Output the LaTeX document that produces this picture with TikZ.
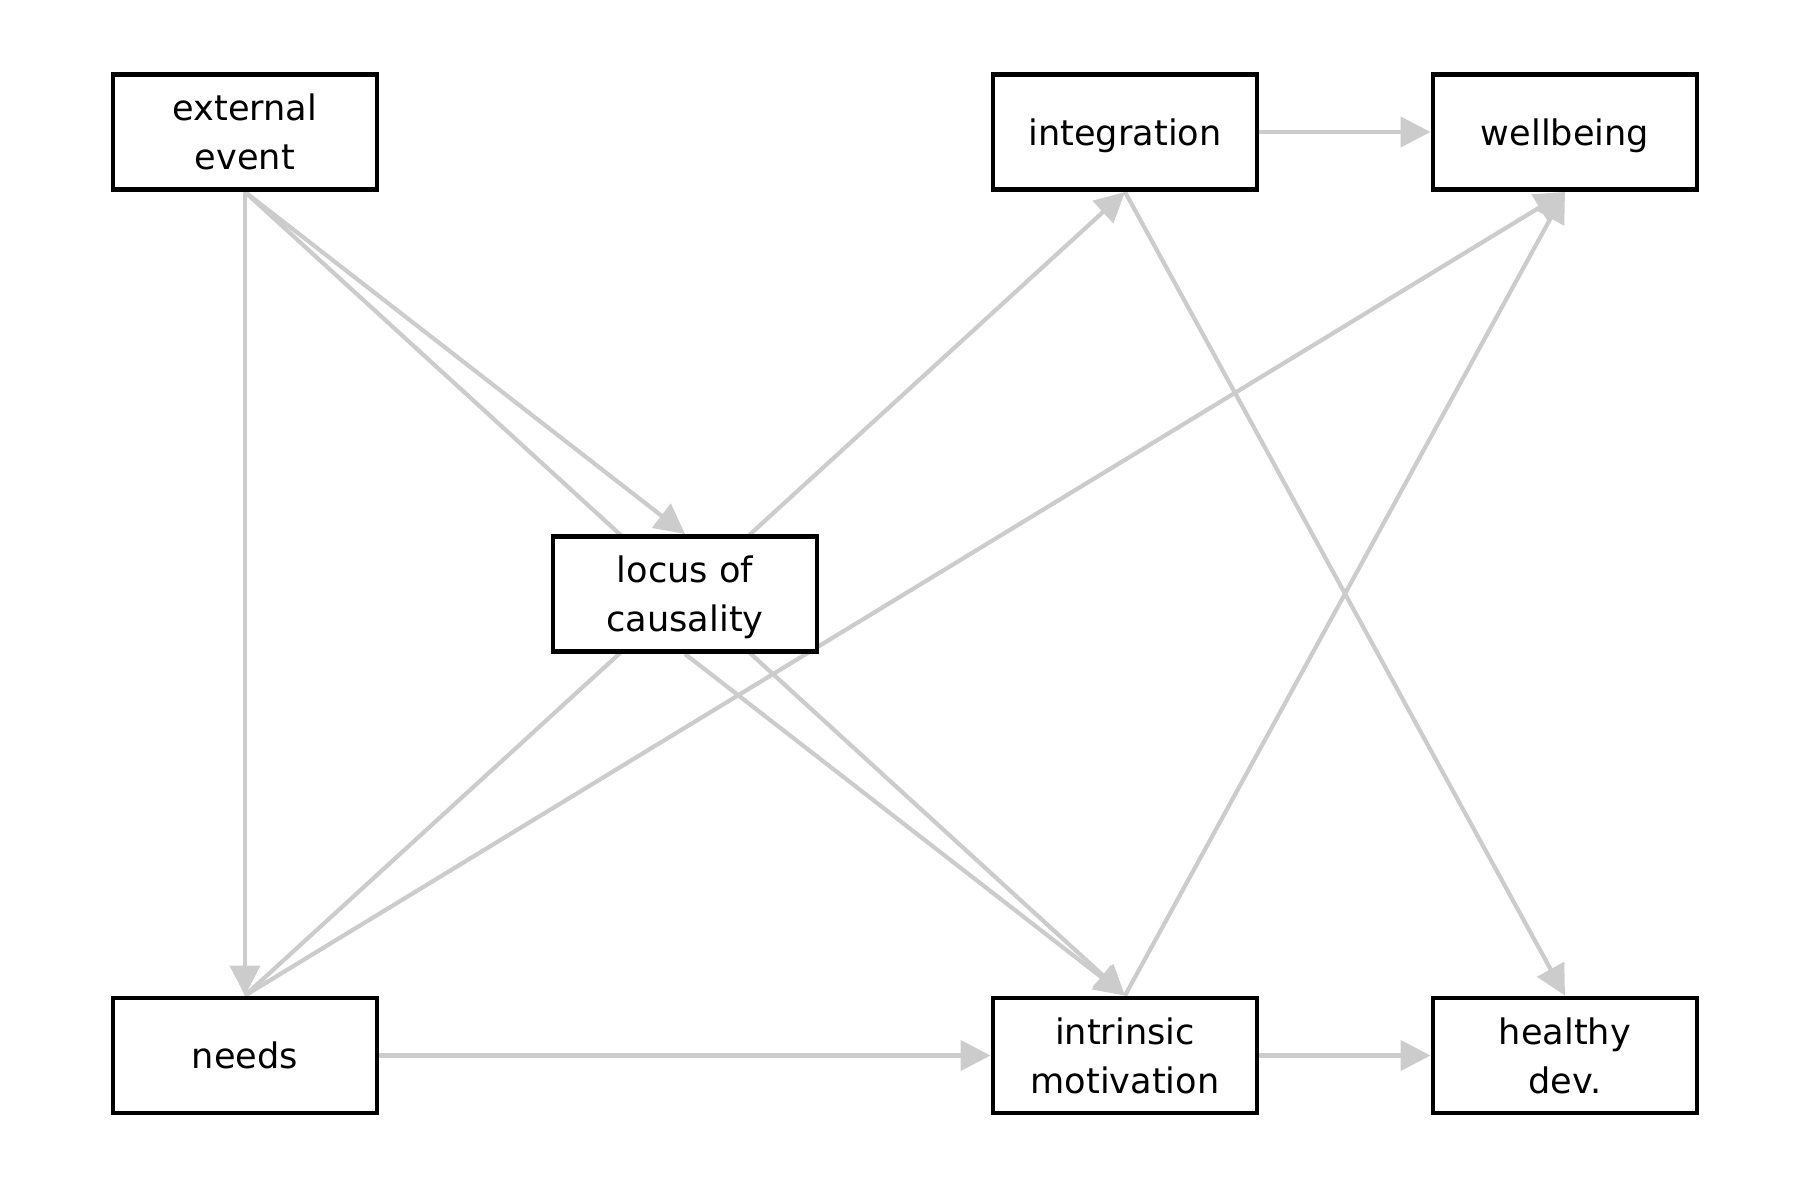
\documentclass[tikz,border=0pt]{standalone}
\usepackage{fontspec}
\setmainfont{DejaVu Sans}
\usetikzlibrary{arrows.meta, backgrounds}

\begin{document}
\begin{tikzpicture}[
    var/.style={rectangle, draw=black, line width=1.4pt, fill=white, minimum width=2.64cm, minimum height=1.15cm, text depth=0pt, align=center, font=\fontsize{10}{14}\selectfont},
    arr/.style={-{Triangle[length=0.3cm, width=0.3cm]}, line width=1.2pt, color=black!20}
]
    \useasboundingbox (0, 0) rectangle (18, 12);

    % Layout: four columns, three rows
    \node[var] (ext) at (2.45, 10.68) {external\\event};
    \node[var] (integ) at (11.25, 10.68) {integration};
    \node[var] (well) at (15.65, 10.68) {wellbeing};
    \node[var] (locus) at (6.85, 6.06) {locus of\\causality};
    \node[var] (needs) at (2.45, 1.445) {needs};
    \node[var] (intr) at (11.25, 1.445) {intrinsic\\motivation};
    \node[var] (healthy) at (15.65, 1.445) {healthy\\dev.};

    % Arrows go behind the boxes
    \begin{pgfonlayer}{background}
    \draw[arr] (ext.south) -- (locus.north);
    \draw[arr] (ext.south) -- (intr.north);
    \draw[arr] (ext.south) -- (needs.north);
    \draw[arr] (needs.north) -- (integ.south);
    \draw[arr] (needs.north) -- (well.south);
    \draw[arr] (locus.south) -- (intr.north);
    \draw[arr] (needs.east) -- (intr.west);
    \draw[arr] (integ.east) -- (well.west);
    \draw[arr] (integ.south) -- (healthy.north);
    \draw[arr] (intr.north) -- (well.south);
    \draw[arr] (intr.east) -- (healthy.west);
    \end{pgfonlayer}
\end{tikzpicture}
\end{document}
